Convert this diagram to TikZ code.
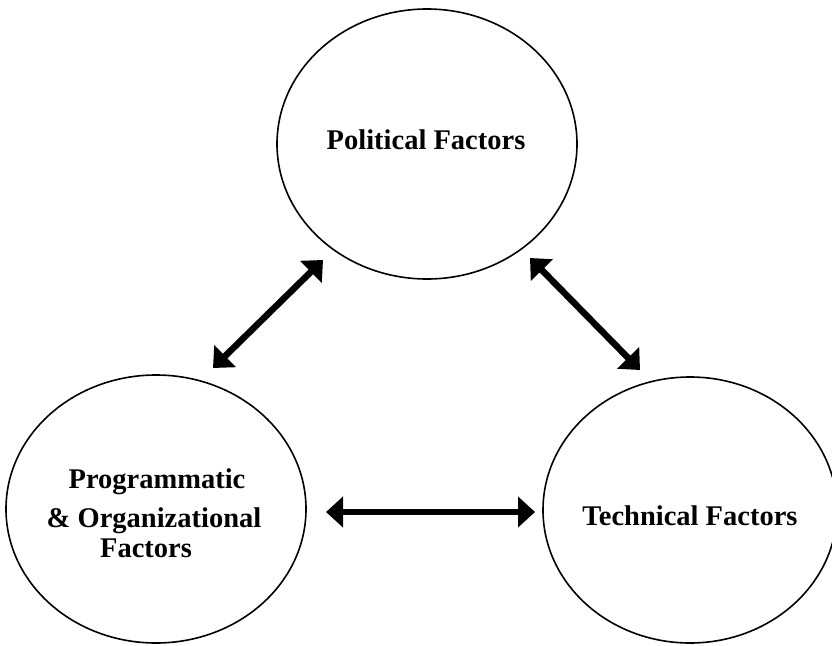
\documentclass[tikz,border=0pt]{standalone}
\usepackage{fontspec}
\setmainfont{Liberation Serif}
\usetikzlibrary{arrows.meta,shapes.geometric}
\begin{document}
\begin{tikzpicture}[x=1pt,y=-1pt,
  factor/.style={draw=black,line width=1.6pt,ellipse,inner sep=0pt,
    minimum width=300pt,minimum height=268pt},
  lbl/.style={anchor=base,inner sep=0pt,font=\fontsize{28.5}{32}\selectfont\bfseries},
  link/.style={line width=6.5pt,{Triangle[length=17pt,width=30pt]}-{Triangle[length=17pt,width=30pt]}}]
\useasboundingbox[fill=white] (0,0) rectangle (832,645);
% circles
\node[factor,minimum height=270pt] (T) at (427,144) {};
\node[factor] (L) at (156,509) {};
\node[factor,minimum width=294pt,minimum height=266pt] (R) at (690,510) {};
% texts
\node[lbl] (tT) at (426,149) {Political Factors};
\node[lbl] (tL1) at (157,488) {Programmatic};
\node[lbl] (tL2) at (154,527) {\& Organizational};
\node[lbl] (tL3) at (146,557) {Factors};
\node[lbl] (tR) at (690,525) {Technical Factors};
% arrow ends
\coordinate (a1) at (323,260);
\coordinate (b1) at (213,368);
\coordinate (a2) at (530,258);
\coordinate (b2) at (640,370);
\coordinate (a3) at (326,512);
\coordinate (b3) at (535,512);
\draw[link] (a1) -- (b1);
\draw[link] (a2) -- (b2);
\draw[link] (a3) -- (b3);
\end{tikzpicture}
\end{document}
